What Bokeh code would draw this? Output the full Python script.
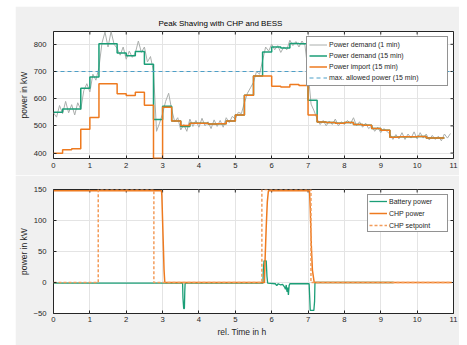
import math
from bokeh.plotting import figure
from bokeh.models import Range1d, FixedTicker, Legend, LegendItem, Title, Spacer
from bokeh.layouts import column, row
from bokeh.embed import file_html
from bokeh.resources import INLINE

# ---------------- data ----------------
interval_h = 0.25          # 15-min resolution
sample_1min_h = 1.0 / 12.0

demand_15min = [550, 562, 562, 638, 680, 802, 802, 768, 758, 773, 727, 523,
                572, 518, 498, 510, 510, 507, 508, 518, 540, 613, 683, 772,
                790, 786, 803, 802, 594, 514, 512, 510, 512, 505, 502, 490,
                484, 458, 460, 460, 461, 455, 455]
import_15min = [399, 412, 416, 488, 531, 655, 655, 618, 612, 624, 576, 381,
                568, 518, 501, 510, 510, 507, 508, 518, 540, 613, 683, 683,
                646, 643, 652, 648, 540, 514, 512, 510, 512, 505, 502, 490,
                484, 458, 460, 460, 461, 455, 455]
demand_1min = [548, 532, 575, 545, 590, 548, 578, 540, 585, 560, 630, 655,
               625, 690, 668, 715, 805, 845, 790, 847, 800, 785, 760, 790,
               745, 775, 752, 768, 812, 770, 790, 735, 755, 700, 480, 510,
               545, 590, 620, 560, 515, 530, 485, 505, 480, 525, 498, 520,
               495, 528, 500, 515, 490, 522, 498, 520, 495, 530, 512, 535,
               525, 550, 545, 585, 620, 640, 660, 700, 690, 740, 790, 775,
               800, 780, 795, 770, 790, 780, 815, 795, 810, 790, 812, 795,
               700, 580, 555, 525, 505, 520, 500, 518, 505, 525, 500, 515,
               505, 520, 508, 530, 500, 515, 495, 510, 490, 500, 480, 495,
               475, 490, 480, 470, 450, 468, 452, 475, 450, 470, 455, 478,
               452, 475, 455, 470, 448, 465, 450, 462, 445, 470, 455, 472]
max_allowed_kw = 700

chp_t = [0.0, 2.97, 2.98, 3.00, 3.02, 3.04, 3.06, 5.80, 5.82, 5.85, 5.88, 5.91,
         7.04, 7.06, 7.09, 7.12, 7.17, 10.95]
chp_p = [148, 148, 140, 100, 60, 20, 0, 0, 40, 90, 130, 148,
         148, 120, 60, 20, 0, 0]
setpoint_t = [0.0, 1.23, 2.76, 5.73, 7.08, 10.95]
setpoint_p = [0, 150, 0, 150, 0, 0]
battery_t = [0.0, 3.55, 3.56, 3.58, 3.60, 3.61, 3.62, 5.76, 5.77, 5.79, 5.85,
             5.87, 5.89, 6.10, 6.14, 6.18, 6.25, 6.30, 6.35, 6.38, 6.40, 6.42,
             6.44, 6.46, 6.48, 6.50, 7.03, 7.05, 7.06, 7.16, 7.18, 7.19, 9.35]
battery_p = [-1, -1, -25, -42, -42, -15, -1, -1, 20, 35, 35,
             10, -1, -2, -5, -2, -4, -3, -7, -11, -4, -15,
             -8, -20, -5, -2, -2, -30, -45, -45, -30, 0, 0]

x_ticks = list(range(0, 12))
y_ticks_top = [400, 500, 600, 700, 800]
y_ticks_bot = [-50, 0, 50, 100, 150]

GREEN = "#1b9e77"
ORANGE = "#ee7a1f"
ORANGE_LIGHT = "#f39c5a"
GRAY = "#aaaeac"
BLUE = "#4d9fc7"
AX = "#262626"
FONT = "Liberation Sans"


def style(p, yt):
    p.background_fill_color = "white"
    p.border_fill_color = "#f0f0f0"
    p.outline_line_color = AX
    p.outline_line_width = 1
    p.xaxis.ticker = FixedTicker(ticks=x_ticks)
    p.yaxis.ticker = FixedTicker(ticks=yt)
    for ax in list(p.xaxis) + list(p.yaxis):
        ax.major_tick_in = 3
        ax.major_tick_out = 0
        ax.minor_tick_line_color = None
        ax.axis_line_color = None
        ax.major_tick_line_color = AX
        ax.major_label_text_font = FONT
        ax.major_label_text_font_size = "7.7px"
        ax.major_label_text_color = AX
    p.yaxis.major_label_standoff = 7
    p.xaxis.major_label_standoff = 4
    p.xgrid.grid_line_color = "#e4e4e4"
    p.ygrid.grid_line_color = "#e4e4e4"
    # inward ticks on the top and right edges of the box
    xr, yr = p.x_range, p.y_range
    p.scatter(x_ticks, [yr.end] * len(x_ticks), marker="dash", angle=math.pi / 2,
              size=6, line_color=AX, line_width=1)
    p.scatter([xr.end] * len(yt), yt, marker="dash", size=6, line_color=AX, line_width=1)
    p.add_layout(Title(text="power in kW", align="center", offset=-8,
                       text_font=FONT, text_font_size="8.5px", text_font_style="normal",
                       text_color=AX, standoff=3), "left")


def legend(p, items, glyph_h, spacing, padding, label_w):
    lg = Legend(items=items, location="top_right", margin=5,
                border_line_color=AX, border_line_width=1,
                background_fill_color="white", background_fill_alpha=1,
                label_text_font=FONT, label_text_font_size="7px",
                label_text_color=AX, label_standoff=2, label_width=label_w,
                glyph_width=18, glyph_height=glyph_h, label_height=glyph_h,
                spacing=spacing, padding=padding)
    p.add_layout(lg, "center")


# ---------------- top plot ----------------
p1 = figure(width=444, height=169, output_backend="svg", toolbar_location=None,
            x_range=Range1d(0, 11), y_range=Range1d(380, 847),
            min_border_left=35, min_border_right=6, min_border_top=25, min_border_bottom=17)
p1.title.text = "Peak Shaving with CHP and BESS"
p1.title.align = "left"
p1.title.offset = 105
p1.title.text_font = FONT
p1.title.text_font_size = "8px"
p1.title.text_font_style = "normal"
p1.title.text_color = "black"
p1.title.standoff = 7
style(p1, y_ticks_top)

t_1min = [i * sample_1min_h for i in range(len(demand_1min))]
t_15 = [i * interval_h for i in range(len(demand_15min) + 1)]
r_gray = p1.line(t_1min, demand_1min, line_color=GRAY, line_width=1)
r_green = p1.step(t_15, demand_15min + [demand_15min[-1]], mode="after",
                  line_color=GREEN, line_width=1.5)
r_orange = p1.step(t_15, import_15min + [import_15min[-1]], mode="after",
                   line_color=ORANGE, line_width=1.5)
r_max = p1.line([0, 11], [max_allowed_kw, max_allowed_kw], line_color=BLUE,
                line_width=1.2, line_dash="4 3")
legend(p1, [LegendItem(label="Power demand (1 min)", renderers=[r_gray]),
            LegendItem(label="Power demand (15 min)", renderers=[r_green]),
            LegendItem(label="Power import (15 min)", renderers=[r_orange]),
            LegendItem(label="max. allowed power (15 min)", renderers=[r_max])],
       11, 0, 2, 116)

# ---------------- bottom plot ----------------
p2 = figure(width=444, height=170, output_backend="svg", toolbar_location=None,
            x_range=Range1d(0, 11), y_range=Range1d(-50, 150),
            min_border_left=35, min_border_right=6, min_border_top=14, min_border_bottom=32)
style(p2, y_ticks_bot)
p2.xaxis.major_label_standoff = 3
r_bat = p2.line(battery_t, battery_p, line_color=GREEN, line_width=1.3)
r_chp = p2.line(chp_t, chp_p, line_color=ORANGE, line_width=1.5)
r_sp = p2.step(setpoint_t, setpoint_p, mode="after", line_color=ORANGE_LIGHT,
               line_width=1.5, line_dash="3 2")
p2.add_layout(Title(text="rel. Time in h", align="left", offset=164,
                    text_font=FONT, text_font_size="8.5px", text_font_style="normal",
                    text_color=AX, standoff=5, vertical_align="top"), "below")
legend(p2, [LegendItem(label="Battery power", renderers=[r_bat]),
            LegendItem(label="CHP power", renderers=[r_chp]),
            LegendItem(label="CHP setpoint", renderers=[r_sp])],
       10, 2, 1, 57)

layout = row(Spacer(width=15, height=345),
             column(Spacer(width=444, height=6), p1, p2))
open("out.html", "w").write(file_html(layout, INLINE))
